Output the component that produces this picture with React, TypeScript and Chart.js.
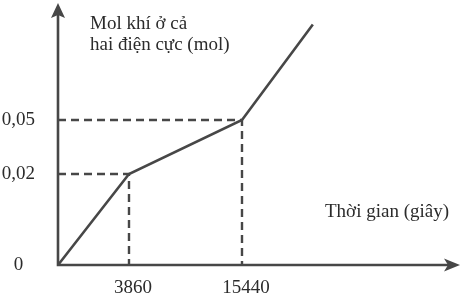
import React, { useEffect, useRef } from 'react';
import { Chart, registerables, LinearScale } from 'chart.js';

Chart.register(...registerables);

// ---- data ----
const timeBreaks = [0, 3860, 15440]; // seconds
const molBreaks = [0, 0.02, 0.05]; // mol
const timeValues = [0, 3860, 15440, 22700];
const molValues = [0, 0.02, 0.05, 0.103];
const xTickValues = [3860, 15440];
const yTickValues = [0, 0.02, 0.05];
const yTitleLines = ['Mol khí ở cả', 'hai điện cực (mol)'];
const xTitle = 'Thời gian (giây)';

// ---- layout of the (not-to-scale) axes ----
const X_FRACS = [0, 0.1766, 0.4577];
const Y_FRACS = [0, 0.3487, 0.5556];
const AXIS_MAP: Record<string, { breaks: number[]; fracs: number[] }> = {
  x: { breaks: timeBreaks, fracs: X_FRACS },
  y: { breaks: molBreaks, fracs: Y_FRACS },
};

const LINE = '#474747';
const TEXT = '#2b2b2b';
const FONT = '"Liberation Serif", "DejaVu Serif", serif';
const FS = 19;

function toDecimal(v: number, stops: number[], fracs: number[]) {
  const n = stops.length;
  let i = 1;
  while (i < n - 1 && v > stops[i]) i++;
  const s0 = stops[i - 1], s1 = stops[i], f0 = fracs[i - 1], f1 = fracs[i];
  return f0 + ((v - s0) * (f1 - f0)) / (s1 - s0);
}
function fromDecimal(d: number, stops: number[], fracs: number[]) {
  const n = fracs.length;
  let i = 1;
  while (i < n - 1 && d > fracs[i]) i++;
  const s0 = stops[i - 1], s1 = stops[i], f0 = fracs[i - 1], f1 = fracs[i];
  return s0 + ((d - f0) * (s1 - s0)) / (f1 - f0);
}

class BrokenScale extends LinearScale {
  static id = 'broken';
  static defaults = {};
  getPixelForValue(value: number) {
    const m = AXIS_MAP[(this as any).id];
    return this.getPixelForDecimal(toDecimal(value, m.breaks, m.fracs));
  }
  getValueForPixel(pixel: number) {
    const m = AXIS_MAP[(this as any).id];
    return fromDecimal(this.getDecimalForPixel(pixel), m.breaks, m.fracs);
  }
}
Chart.register(BrokenScale as any);

const axesPlugin = {
  id: 'axesArrowsTitles',
  afterDatasetsDraw(chart: any) {
    const ctx = chart.ctx as CanvasRenderingContext2D;
    const a = chart.chartArea;
    ctx.save();
    ctx.strokeStyle = LINE;
    ctx.fillStyle = LINE;
    ctx.lineWidth = 2.6;
    ctx.lineCap = 'butt';
    ctx.beginPath();
    ctx.moveTo(a.left, a.top + 10);
    ctx.lineTo(a.left, a.bottom);
    ctx.lineTo(a.right - 10, a.bottom);
    ctx.stroke();
    // y arrow
    ctx.beginPath();
    ctx.moveTo(a.left, a.top - 1);
    ctx.lineTo(a.left - 7, a.top + 14);
    ctx.lineTo(a.left, a.top + 11);
    ctx.lineTo(a.left + 7, a.top + 14);
    ctx.closePath();
    ctx.fill();
    // x arrow
    ctx.beginPath();
    ctx.moveTo(a.right, a.bottom);
    ctx.lineTo(a.right - 16, a.bottom - 6.5);
    ctx.lineTo(a.right - 12, a.bottom);
    ctx.lineTo(a.right - 16, a.bottom + 6.5);
    ctx.closePath();
    ctx.fill();
    // titles
    ctx.fillStyle = TEXT;
    ctx.font = `${FS}px ${FONT}`;
    ctx.textBaseline = 'alphabetic';
    ctx.textAlign = 'left';
    ctx.fillText(yTitleLines[0], a.left + 32, a.top + 25);
    ctx.fillText(yTitleLines[1], a.left + 32, a.top + 46);
    ctx.fillText(xTitle, a.left + 267, a.bottom - 48);
    ctx.restore();
  },
};

const fmt = (v: any) => String(v).replace('.', ',');

export default function App() {
  const ref = useRef<HTMLCanvasElement | null>(null);
  useEffect(() => {
    if (!ref.current) return;
    const guide = (i: number) => ({
      label: 'guide' + i,
      data: [
        { x: timeBreaks[0], y: molBreaks[i] },
        { x: timeBreaks[i], y: molBreaks[i] },
        { x: timeBreaks[i], y: molBreaks[0] },
      ],
      borderColor: LINE,
      borderWidth: 2.4,
      borderDash: [8, 5],
      pointRadius: 0,
      tension: 0,
      fill: false,
    });
    const chart = new Chart(ref.current, {
      type: 'line',
      data: {
        datasets: [
          {
            label: 'mol',
            data: timeValues.map((t, i) => ({ x: t, y: molValues[i] })),
            borderColor: LINE,
            borderWidth: 2.6,
            pointRadius: 0,
            tension: 0,
            fill: false,
            borderJoinStyle: 'miter',
          } as any,
          guide(1) as any,
          guide(2) as any,
        ],
      },
      options: {
        animation: false,
        responsive: false,
        events: [],
        layout: { padding: { top: 4, right: 14, left: 0, bottom: 0 } },
        plugins: { legend: { display: false }, tooltip: { enabled: false } },
        scales: {
          x: {
            type: 'broken' as any,
            min: 0,
            max: 40000,
            grid: { display: false, drawTicks: false },
            border: { display: false },
            afterBuildTicks: (s: any) => {
              s.ticks = xTickValues.map((v) => ({ value: v }));
            },
            afterFit: (s: any) => {
              s.height = 35;
              s.paddingLeft = 0;
              s.paddingRight = 0;
            },
            ticks: {
              autoSkip: false,
              maxRotation: 0,
              padding: 12,
              labelOffset: 4,
              color: TEXT,
              font: { family: FONT, size: FS },
              callback: fmt,
            },
          } as any,
          y: {
            type: 'broken' as any,
            min: 0,
            max: 0.2,
            grid: { display: false, drawTicks: false },
            border: { display: false },
            afterBuildTicks: (s: any) => {
              s.ticks = yTickValues.map((v) => ({ value: v }));
            },
            afterFit: (s: any) => {
              s.width = 58;
              s.paddingTop = 0;
              s.paddingBottom = 0;
            },
            ticks: {
              autoSkip: false,
              padding: 23,
              crossAlign: 'center',
              color: TEXT,
              font: { family: FONT, size: FS },
              callback: fmt,
            },
          } as any,
        },
      },
      plugins: [axesPlugin],
    });
    return () => chart.destroy();
  }, []);
  return (
    <div style={{ position: 'absolute', left: 0, top: 0, width: 474, height: 300, background: '#fff' }}>
      <canvas ref={ref} width={474} height={300} style={{ display: 'block' }} />
    </div>
  );
}
